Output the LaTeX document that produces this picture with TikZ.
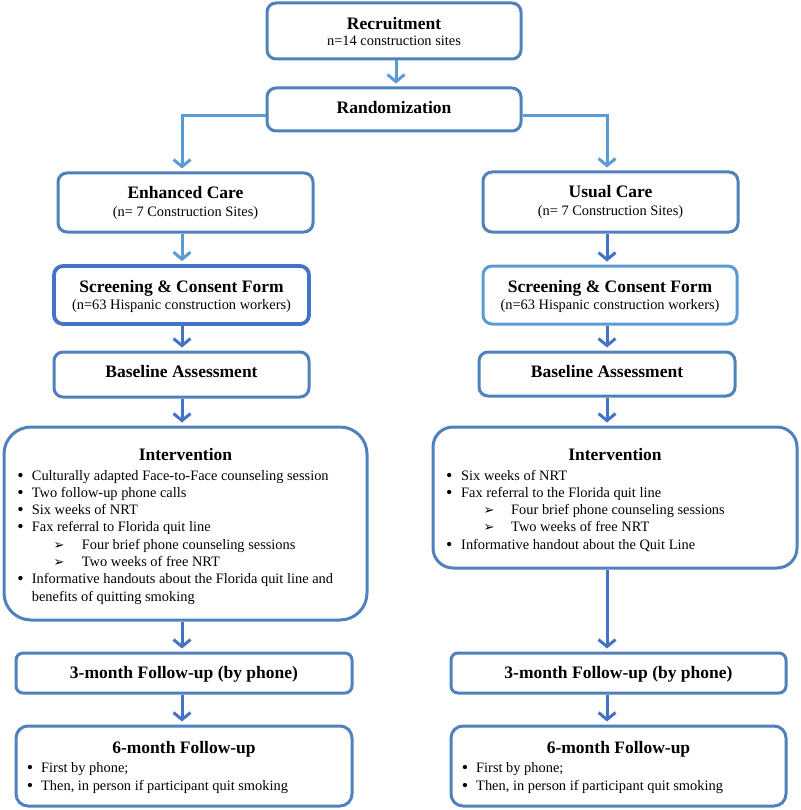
\documentclass[tikz,border=0pt]{standalone}
\usepackage{fontspec}
\setmainfont{Liberation Serif}
\newfontfamily\dejavu{DejaVu Sans}
\usetikzlibrary{arrows.meta}
\definecolor{bord}{HTML}{4F81BD}
\definecolor{lightb}{HTML}{5B9BD5}
\definecolor{darkb}{HTML}{4472C4}
\tikzset{
  box/.style={draw=bord, line width=3pt, rounded corners=#1, fill=white, inner sep=0pt},
  box/.default=9pt,
  ttl/.style={font=\fontsize{17.5}{21}\selectfont\bfseries, anchor=base, inner sep=0pt},
  sub/.style={font=\fontsize{14.4}{17}\selectfont, anchor=base, inner sep=0pt},
  itm/.style={font=\fontsize{14.4}{17}\selectfont, anchor=base west, inner sep=0pt},
  bul/.style={font=\fontsize{18}{17}\selectfont, anchor=base, inner sep=0pt, yshift=-1pt},
  sbul/.style={font=\fontsize{13}{13}\selectfont\dejavu, anchor=base, inner sep=0pt},
  arr/.style={line width=3pt, shorten >=3pt, -{Straight Barb[length=7pt,width=17pt]}},
}
\begin{document}
\begin{tikzpicture}[x=1pt,y=-1pt]
\useasboundingbox (0,0) rectangle (800,810);
% boxes
\node[box] (rec) at (394,31) [minimum width=254pt, minimum height=56pt] {};
\node[box] (rand) at (394,109.5) [minimum width=254pt, minimum height=43pt] {};
\node[box] (enh) at (185.5,202.5) [minimum width=255pt, minimum height=59pt] {};
\node[box] (usual) at (610.5,202) [minimum width=255pt, minimum height=60pt] {};
\node[box, draw=darkb, line width=3.8pt] (scrL) at (181.5,295) [minimum width=255pt, minimum height=58pt] {};
\node[box, draw=lightb] (scrR) at (610,295) [minimum width=254pt, minimum height=58pt] {};
\node[box] (baseL) at (181.5,374.5) [minimum width=255pt, minimum height=45pt] {};
\node[box] (baseR) at (607,374) [minimum width=256pt, minimum height=44pt] {};
\node[box=27pt] (intL) at (185.5,523.5) [minimum width=363pt, minimum height=193pt] {};
\node[box=20pt] (intR) at (615,497.5) [minimum width=364pt, minimum height=141pt] {};
\node[box=7pt] (m3L) at (184,673) [minimum width=336pt, minimum height=40pt] {};
\node[box=12pt] (m6L) at (184,766) [minimum width=336pt, minimum height=80pt] {};
\node[box=7pt] (m3R) at (618.5,673) [minimum width=335pt, minimum height=40pt] {};
\node[box=12pt] (m6R) at (618.5,766) [minimum width=335pt, minimum height=80pt] {};
% coordinates for connectors
\coordinate (lx) at (182,116);
\coordinate (rx) at (607,116);
\coordinate (mx) at (396,0);
% connectors
\draw[arr, lightb] (mx |- rec.south) -- (mx |- rand.north);
\draw[arr, lightb] (rand.west |- lx) -- (lx) -- (lx |- enh.north);
\draw[arr, lightb] (rand.east |- rx) -- (rx) -- (rx |- usual.north);
\draw[arr, lightb] (lx |- enh.south) -- (lx |- scrL.north);
\draw[arr, darkb] (rx |- usual.south) -- (rx |- scrR.north);
\draw[arr, darkb] (lx |- scrL.south) -- (lx |- baseL.north);
\draw[arr, darkb] (rx |- scrR.south) -- (rx |- baseR.north);
\draw[arr, darkb] (lx |- baseL.south) -- (lx |- intL.north);
\draw[arr, darkb] (rx |- baseR.south) -- (rx |- intR.north);
\draw[arr, darkb] (lx |- intL.south) -- (lx |- m3L.north);
\draw[arr, darkb] (rx |- intR.south) -- (rx |- m3R.north);
\draw[arr, darkb] (lx |- m3L.south) -- (lx |- m6L.north);
\draw[arr, darkb] (rx |- m3R.south) -- (rx |- m6R.north);
% texts
\node[ttl] (t1) at (394,29.3) {Recruitment};
\node[sub] (s1) at (394,46) {n=14 construction sites};
\node[ttl] (t2) at (394,114) {Randomization};
\node[ttl] (t3) at (185.5,199) {Enhanced Care};
\node[sub] (s3) at (185.5,216) {(n= 7 Construction Sites)};
\node[ttl] (t4) at (610.5,197.5) {Usual Care};
\node[sub] (s4) at (610.5,215) {(n= 7 Construction Sites)};
\node[ttl] (t5) at (181.5,292.5) {Screening \& Consent Form};
\node[sub] (s5) at (181.5,309) {(n=63 Hispanic construction workers)};
\node[ttl] (t6) at (610,292.5) {Screening \& Consent Form};
\node[sub] (s6) at (610,309) {(n=63 Hispanic construction workers)};
\node[ttl] (t7) at (181.5,377) {Baseline Assessment};
\node[ttl] (t8) at (607,377) {Baseline Assessment};
% intervention left
\node[ttl] (t9) at (185.5,460.7) {Intervention};
\node[bul] (b91) at (20.5,480) {•};
\node[itm] (i91) at (31.7,480) {Culturally adapted Face-to-Face counseling session};
\node[bul] (b92) at (20.5,497.3) {•};
\node[itm] (i92) at (31.7,497.3) {Two follow-up phone calls};
\node[bul] (b93) at (20.5,514.6) {•};
\node[itm] (i93) at (31.7,514.6) {Six weeks of NRT};
\node[bul] (b94) at (20.5,531.9) {•};
\node[itm] (i94) at (31.7,531.9) {Fax referral to Florida quit line};
\node[sbul] (a95) at (59,549.2) {➢};
\node[itm] (i95) at (81.7,549.2) {Four brief phone counseling sessions};
\node[sbul] (a96) at (59,566.5) {➢};
\node[itm] (i96) at (81.7,566.5) {Two weeks of free NRT};
\node[bul] (b97) at (20.5,583.8) {•};
\node[itm] (i97) at (31.7,583.8) {Informative handouts about the Florida quit line and};
\node[itm] (i98) at (31.7,601.1) {benefits of quitting smoking};
% intervention right
\node[ttl] (t10) at (615,460.7) {Intervention};
\node[bul] (b101) at (449.3,480) {•};
\node[itm] (i101) at (461,480) {Six weeks of NRT};
\node[bul] (b102) at (449.3,497.3) {•};
\node[itm] (i102) at (461,497.3) {Fax referral to the Florida quit line};
\node[sbul] (a103) at (489,514.6) {➢};
\node[itm] (i103) at (511,514.6) {Four brief phone counseling sessions};
\node[sbul] (a104) at (489,531.9) {➢};
\node[itm] (i104) at (511,531.9) {Two weeks of free NRT};
\node[bul] (b105) at (449.3,549.2) {•};
\node[itm] (i105) at (461,549.2) {Informative handout about the Quit Line};
% follow-ups left
\node[ttl] (t11) at (184,678.3) {3-month Follow-up (by phone)};
\node[ttl] (t12) at (184,753.3) {6-month Follow-up};
\node[bul] (b121) at (30,772.3) {•};
\node[itm] (i121) at (41,772.3) {First by phone;};
\node[bul] (b122) at (30,790.7) {•};
\node[itm] (i122) at (41,790.7) {Then, in person if participant quit smoking};
% follow-ups right
\node[ttl] (t13) at (618.5,678.3) {3-month Follow-up (by phone)};
\node[ttl] (t14) at (618.5,753.3) {6-month Follow-up};
\node[bul] (b141) at (465,772.3) {•};
\node[itm] (i141) at (476,772.3) {First by phone;};
\node[bul] (b142) at (465,790.7) {•};
\node[itm] (i142) at (476,790.7) {Then, in person if participant quit smoking};
\end{tikzpicture}
\end{document}
